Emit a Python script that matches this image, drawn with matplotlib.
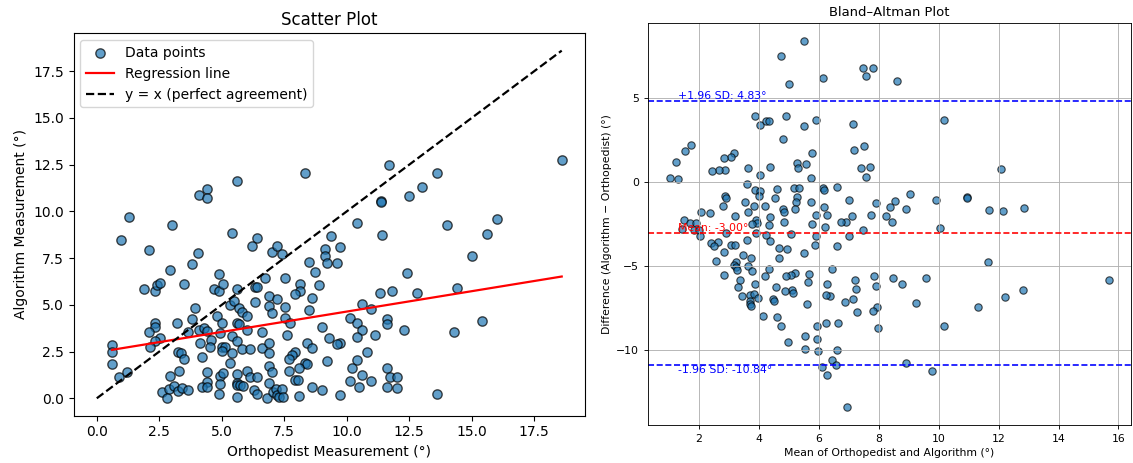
import numpy as np
import matplotlib
matplotlib.use("Agg")
import matplotlib.pyplot as plt

ortho = [18.60, 11.70, 8.33, 13.60, 5.60, 4.40, 4.08, 4.40, 13.01, 12.50,
         11.38, 11.38, 1.29, 0.98, 3.01, 10.41, 14.03, 16.02, 15.61, 5.41,
         6.41, 6.19, 11.40, 9.37, 2.09, 4.03, 3.81, 6.99, 7.22, 7.41,
         9.11, 9.72, 9.11, 9.22, 9.62, 15.00, 2.91, 8.50, 8.74, 12.41,
         4.90, 6.72, 7.53, 1.90, 2.31, 2.40, 2.51, 3.50, 4.69, 4.90,
         5.03, 5.60, 6.31, 6.41, 8.11, 8.90, 8.11, 7.92, 6.90, 7.22,
         8.60, 11.32, 11.80, 12.82, 14.43, 3.92, 5.32, 5.49, 5.70, 5.80,
         6.31, 6.90, 6.99, 7.53, 8.50, 10.60, 10.99, 3.81, 3.21, 2.31,
         2.31, 4.81, 5.00, 5.60, 5.70, 6.00, 7.51, 7.73, 10.12, 10.41,
         11.62, 11.62, 12.31, 15.41, 14.30, 2.09, 2.51, 2.31, 2.11, 3.66,
         4.10, 4.29, 4.39, 4.11, 4.55, 4.51, 4.91, 5.41, 5.60, 6.00,
         6.60, 7.62, 10.61, 10.41, 11.12, 9.01, 9.30, 9.74, 9.61, 0.61,
         0.61, 0.61, 0.89, 1.21, 3.24, 3.36, 3.50, 4.20, 5.01, 5.12,
         5.01, 5.41, 5.80, 6.12, 6.61, 6.90, 6.90, 7.92, 7.82, 7.69,
         8.42, 8.62, 10.81, 5.31, 9.22, 10.41, 10.20, 8.31, 8.42, 8.10,
         6.90, 6.99, 7.70, 11.61, 11.72, 12.02, 10.60, 10.99, 10.12, 2.94,
         3.30, 4.40, 4.93, 5.06, 5.60, 6.00, 6.12, 6.41, 5.60, 5.60,
         5.74, 6.90, 7.92, 8.04, 4.40, 4.91, 2.60, 2.89, 3.10, 3.24,
         3.42, 3.63, 2.81, 4.20, 4.40, 4.90, 5.60, 5.86, 6.28, 6.41,
         6.82, 7.05, 7.15, 7.22, 7.30, 7.41, 7.43, 8.10, 8.62, 9.01,
         9.72, 10.51, 11.61, 12.02, 13.60]
algo = [12.77, 12.48, 12.04, 12.07, 11.63, 11.20, 10.86, 10.73, 11.29, 10.84,
        10.54, 10.48, 9.71, 8.48, 9.25, 9.38, 9.29, 9.61, 8.80, 8.86,
        8.57, 8.14, 8.71, 8.68, 7.93, 7.77, 7.16, 7.84, 8.16, 7.73,
        7.98, 8.11, 7.63, 7.23, 7.25, 7.61, 6.89, 7.30, 6.77, 6.73,
        6.64, 6.46, 6.46, 5.86, 5.73, 6.07, 6.16, 6.11, 5.84, 5.73,
        6.11, 5.86, 5.95, 5.93, 6.13, 6.05, 5.73, 5.57, 5.46, 5.30,
        5.38, 5.61, 5.73, 5.64, 5.91, 4.82, 5.00, 5.18, 4.82, 4.64,
        5.14, 4.93, 4.54, 4.89, 4.73, 5.05, 4.80, 4.23, 4.05, 4.05,
        3.84, 4.41, 4.05, 4.02, 3.96, 4.41, 4.30, 4.02, 4.32, 4.05,
        4.23, 3.96, 3.63, 4.16, 3.54, 3.54, 3.23, 3.04, 2.77, 3.54,
        3.66, 3.75, 3.61, 2.95, 3.13, 2.73, 3.48, 3.34, 3.09, 3.66,
        3.54, 3.39, 3.66, 3.30, 3.41, 3.84, 3.25, 2.98, 2.89, 2.84,
        2.46, 1.82, 1.16, 1.39, 2.46, 2.41, 2.11, 2.20, 2.77, 2.73,
        2.54, 2.41, 2.66, 2.64, 2.71, 2.95, 2.41, 2.50, 2.29, 2.09,
        2.95, 2.68, 2.46, 1.91, 2.00, 2.05, 1.64, 1.88, 1.82, 1.61,
        1.75, 1.43, 1.46, 1.61, 1.16, 1.13, 1.27, 0.95, 0.95, 1.20,
        1.45, 1.41, 1.21, 1.34, 1.30, 1.48, 1.14, 1.14, 0.84, 0.71,
        0.71, 0.84, 0.98, 0.98, 0.86, 0.77, 0.36, 0.48, 0.66, 0.41,
        0.57, 0.45, 0.04, 0.61, 0.59, 0.21, 0.09, 0.66, 0.45, 0.21,
        0.04, 0.32, 0.50, 0.18, 0.09, 0.50, 0.05, 0.14, 0.59, 0.45,
        0.20, 0.59, 0.61, 0.54, 0.25]

# regression fit and Bland-Altman statistics as reported in the chart
reg_slope = 0.218
reg_intercept = 2.46
bias = -3.00
loa_upper = 4.83
loa_lower = -10.84

ortho = np.array(ortho)
algo = np.array(algo)
ba_mean = (ortho + algo) / 2
ba_diff = algo - ortho

fig = plt.figure(figsize=(11.33, 4.63), dpi=100)

# ---- scatter panel
ax1 = fig.add_axes([0.0649, 0.1022, 0.4514, 0.826])
ax1.scatter(ortho, algo, s=45, color="C0", alpha=0.7, edgecolors="k",
            label="Data points")
xr = np.array([ortho.min(), ortho.max()])
ax1.plot(xr, reg_intercept + reg_slope * xr, color="red", lw=1.6,
         label="Regression line")
xl = np.array([0, ortho.max()])
ax1.plot(xl, xl, "k--", lw=1.6, label="y = x (perfect agreement)")
ax1.set_xticks(np.arange(0, 18, 2.5))
ax1.set_yticks(np.arange(0, 18, 2.5))
ax1.set_xlabel("Orthopedist Measurement (°)", fontsize=10)
ax1.set_ylabel("Algorithm Measurement (°)", fontsize=10)
ax1.set_title("Scatter Plot", fontsize=12)
ax1.legend(loc="upper left", fontsize=10)

# ---- Bland-Altman panel (drawn smaller, like a shrunk figure)
k = 0.785
ax2 = fig.add_axes([0.5719, 0.0821, 0.4263, 0.869])
ax2.scatter(ba_mean, ba_diff, s=28, color="C0", alpha=0.7, edgecolors="k",
            linewidths=0.8)
ax2.axhline(bias, color="red", ls="--", lw=1.5 * k)
ax2.axhline(loa_upper, color="blue", ls="--", lw=1.5 * k)
ax2.axhline(loa_lower, color="blue", ls="--", lw=1.5 * k)
tx = 1.3
ax2.text(tx, bias, f"Mean: {bias:.2f}°", color="red", fontsize=10 * k,
         va="bottom")
ax2.text(tx, loa_upper, f"+1.96 SD: {loa_upper:.2f}°", color="blue",
         fontsize=10 * k, va="bottom")
ax2.text(tx, loa_lower, f"-1.96 SD: {loa_lower:.2f}°", color="blue",
         fontsize=10 * k, va="top")
ax2.set_xticks(np.arange(2, 17, 2))
ax2.set_yticks([-10, -5, 0, 5])
ax2.grid(True, color="#b0b0b0", lw=0.8 * k)
ax2.tick_params(labelsize=10 * k, length=3.5 * k, width=0.8 * k)
for sp in ax2.spines.values():
    sp.set_linewidth(0.8 * k)
ax2.set_xlabel("Mean of Orthopedist and Algorithm (°)", fontsize=10 * k,
               labelpad=4 * k)
ax2.set_ylabel("Difference (Algorithm \u2212 Orthopedist) (°)", fontsize=10 * k,
               labelpad=4 * k)
ax2.set_title("Bland\u2013Altman Plot", fontsize=12 * k, pad=6 * k)

fig.savefig("out.png", dpi=100)
